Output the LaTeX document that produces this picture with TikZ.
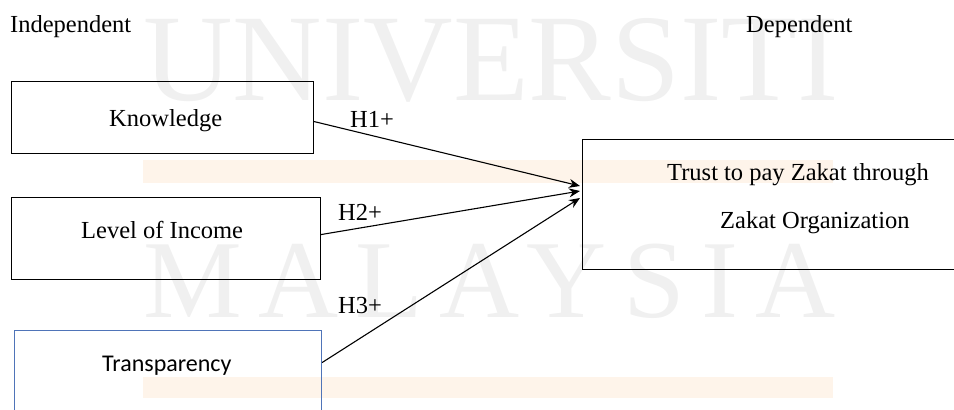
\documentclass[tikz,border=0pt]{standalone}
\usepackage{fontspec}
\setmainfont{Liberation Serif}
\newfontfamily\calibrifont{Carlito}
\usetikzlibrary{arrows.meta}
\definecolor{wmgray}{HTML}{F0F0F0}
\definecolor{wmorange}{HTML}{FEF4EA}
\definecolor{tblue}{HTML}{4F74B8}
\begin{document}
\begin{tikzpicture}[x=1pt,y=-1pt,
  box/.style={draw=black,line width=1.1pt,inner sep=0,anchor=north west},
  lbl/.style={anchor=base west,inner sep=0,font=\fontsize{24.5}{28}\selectfont},
  conn/.style={line width=1.1pt,-{Stealth[length=11pt,width=9pt]}},
  wm/.style={anchor=base west,inner sep=0,text=wmgray}]
\useasboundingbox (0,0) rectangle (954,410);
% watermark
\fill[wmorange] (143,160) rectangle (833,183);
\fill[wmorange] (143,377) rectangle (833,398);
\node[wm,font=\fontsize{124}{124}\selectfont] (wm1) at (143,100) {UNIVERSITI};
\node[wm,font=\fontsize{111}{111}\selectfont\addfontfeature{LetterSpace=15}] (wm2) at (143,317) {MALAYSIA};
% boxes
\node[box,minimum width=302pt,minimum height=72pt] (k) at (11,81) {};
\node[box,minimum width=309pt,minimum height=82pt] (l) at (11,197) {};
\node[box,draw=tblue,minimum width=307pt,minimum height=100pt] (t) at (14,330) {};
\node[box,minimum width=400pt,minimum height=130pt] (d) at (582,139) {};
% texts
\node[lbl] (indep) at (10,32) {Independent};
\node[lbl] (dep) at (746,32) {Dependent};
\node[lbl] (ktext) at (109,126) {Knowledge};
\node[lbl] (ltext) at (81,238) {Level of Income};
\node[lbl,font=\calibrifont\fontsize{24}{28}\selectfont] (ttext) at (102,371) {Transparency};
\node[lbl] (dtext1) at (667,180) {Trust to pay Zakat through};
\node[lbl] (dtext2) at (720,228) {Zakat Organization};
\node[lbl] (h1) at (350,127) {H1+};
\node[lbl] (h2) at (338,220) {H2+};
\node[lbl] (h3) at (338,313) {H3+};
% connectors
\coordinate (e1) at (580,186);
\coordinate (e2) at (580,191);
\coordinate (e3) at (580,198);
\draw[conn] ([yshift=-4pt]k.east) -- (e1);
\draw[conn] ([yshift=4pt]l.east) -- (e2);
\draw[conn] ([yshift=18pt]t.east) -- (e3);
\end{tikzpicture}
\end{document}
